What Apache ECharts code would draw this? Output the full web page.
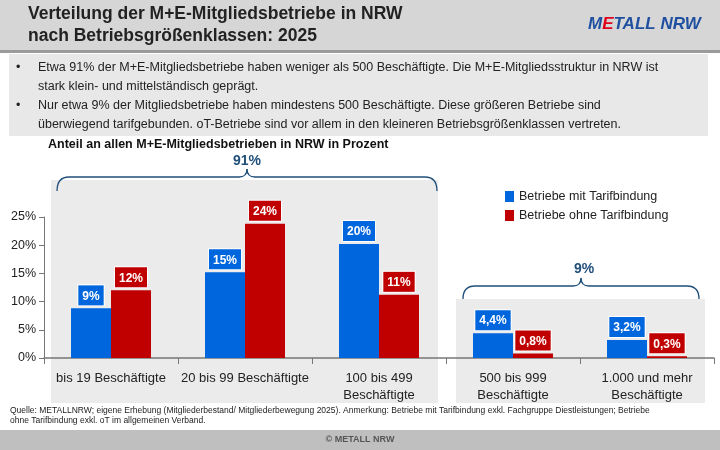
<!DOCTYPE html>
<html>
<head>
<meta charset="utf-8">
<script src="https://cdn.jsdelivr.net/npm/echarts@6/dist/echarts.min.js"></script>
<style>
  body { margin: 0; }
  #chart { width: 720px; height: 450px; }
</style>
</head>
<body>
<div id="chart"></div>
<script>
// Anteil an allen M+E-Mitgliedsbetrieben in NRW in Prozent
let kategorien = ['bis 19 Beschäftigte', '20 bis 99 Beschäftigte', '100 bis 499\nBeschäftigte', '500 bis 999\nBeschäftigte', '1.000 und mehr\nBeschäftigte'];
let mitTarif = [8.8, 15.2, 20.2, 4.4, 3.2];
let ohneTarif = [12.0, 23.8, 11.2, 0.8, 0.3];
let mitLabel = ['9%', '15%', '20%', '4,4%', '3,2%'];
let ohneLabel = ['12%', '24%', '11%', '0,8%', '0,3%'];

let font = "'Liberation Sans', Arial, sans-serif";
let blau = '#0066dd';
let rot = '#c00000';

// geschweifte Klammer aus Kurven und Linien
let brace = function (x1, x2, y, h) {
  let m = (x1 + x2) / 2;
  let st = { stroke: '#1f4e79', fill: null, lineWidth: 1.3 };
  let curve = function (a, b, c) {
    return { type: 'bezierCurve', shape: { x1: a[0], y1: a[1], cpx1: b[0], cpy1: b[1], x2: c[0], y2: c[1] }, style: st };
  };
  let line = function (a, b) {
    return { type: 'line', shape: { x1: a[0], y1: a[1], x2: b[0], y2: b[1] }, style: st };
  };
  return [
    curve([x1, y + h], [x1, y], [x1 + 12, y]),
    line([x1 + 12, y], [m - 8, y]),
    curve([m - 8, y], [m, y], [m, y - 8]),
    curve([m, y - 8], [m, y], [m + 8, y]),
    line([m + 8, y], [x2 - 12, y]),
    curve([x2 - 12, y], [x2, y], [x2, y + h])
  ];
};

let labelStyle = function (farbe, texte) {
  return {
    show: true,
    position: 'top',
    distance: 3,
    formatter: function (p) { return texte[p.dataIndex]; },
    color: '#fff',
    fontWeight: 'bold',
    fontSize: 12,
    fontFamily: font,
    backgroundColor: farbe,
    borderColor: '#fff',
    borderWidth: 1,
    padding: [5, 4, 3, 4]
  };
};

let graphics = [
  { type: 'rect', z: -10, shape: { x: 0, y: 0, width: 720, height: 50 }, style: { fill: '#d6d6d6' } },
  { type: 'rect', z: -10, shape: { x: 0, y: 50, width: 720, height: 3 }, style: { fill: '#9a9a9a' } },
  { type: 'text', x: 28, y: 3, style: { text: 'Verteilung der M+E-Mitgliedsbetriebe in NRW\nnach Betriebsgrößenklassen: 2025', font: 'bold 17.5px ' + font, fill: '#222', lineHeight: 22 } },
  { type: 'text', x: 588, y: 16, style: { text: '{m|M}{e|E}{r|TALL NRW}', rich: { m: { fill: '#1f4fa0', font: 'italic bold 17px ' + font }, e: { fill: '#e0001b', font: 'italic bold 17px ' + font }, r: { fill: '#1f4fa0', font: 'italic bold 17px ' + font } } } },
  { type: 'rect', z: -10, shape: { x: 9, y: 54, width: 699, height: 82 }, style: { fill: '#e8e8e8' } },
  { type: 'text', x: 16, y: 58, style: { text: '•\n\n•', font: '12.5px ' + font, fill: '#222', lineHeight: 19 } },
  { type: 'text', x: 38, y: 58, style: { text: 'Etwa 91% der M+E-Mitgliedsbetriebe haben weniger als 500 Beschäftigte. Die M+E-Mitgliedsstruktur in NRW ist\nstark klein- und mittelständisch geprägt.\nNur etwa 9% der Mitgliedsbetriebe haben mindestens 500 Beschäftigte. Diese größeren Betriebe sind\nüberwiegend tarifgebunden. oT-Betriebe sind vor allem in den kleineren Betriebsgrößenklassen vertreten.', font: '12.5px ' + font, fill: '#222', lineHeight: 19 } },
  { type: 'text', x: 48, y: 138, style: { text: 'Anteil an allen M+E-Mitgliedsbetrieben in NRW in Prozent', font: 'bold 12.5px ' + font, fill: '#111' } },
  { type: 'rect', z: -10, shape: { x: 51, y: 180, width: 387, height: 223 }, style: { fill: '#ebebeb' } },
  { type: 'rect', z: -10, shape: { x: 456, y: 299, width: 249, height: 104 }, style: { fill: '#ebebeb' } },
  { type: 'text', x: 247, y: 154, style: { text: '91%', font: 'bold 14px ' + font, fill: '#1f4e79', textAlign: 'center' } },
  { type: 'text', x: 584, y: 262, style: { text: '9%', font: 'bold 14px ' + font, fill: '#1f4e79', textAlign: 'center' } },
  { type: 'text', x: 10, y: 406, style: { text: 'Quelle: METALLNRW; eigene Erhebung (Mitgliederbestand/ Mitgliederbewegung 2025). Anmerkung: Betriebe mit Tarifbindung exkl. Fachgruppe Diestleistungen; Betriebe\nohne Tarifbindung exkl. oT im allgemeinen Verband.', font: '8.5px ' + font, fill: '#222', lineHeight: 10 } },
  { type: 'rect', z: -10, shape: { x: 0, y: 430, width: 720, height: 20 }, style: { fill: '#bfbfbf' } },
  { type: 'text', x: 360, y: 435, style: { text: '© METALL NRW', font: 'bold 9px ' + font, fill: '#555', textAlign: 'center' } }
].concat(brace(57, 437, 177, 14), brace(463, 699, 286, 13));

let chart = echarts.init(document.getElementById('chart'));
chart.setOption({
  backgroundColor: '#fff',
  animation: false,
  graphic: graphics,
  legend: {
    left: 500,
    top: 185,
    orient: 'vertical',
    icon: 'rect',
    itemWidth: 9,
    itemHeight: 11,
    itemGap: 6,
    textStyle: { fontFamily: font, fontSize: 12.5, color: '#222' },
    data: ['Betriebe mit Tarifbindung', 'Betriebe ohne Tarifbindung']
  },
  grid: { left: 44, right: 6, top: 217, bottom: 92 },
  xAxis: {
    type: 'category',
    data: kategorien,
    axisLine: { lineStyle: { color: '#777', width: 1.5 } },
    axisTick: { show: true, length: 6, lineStyle: { color: '#777' } },
    axisLabel: { interval: 0, fontFamily: font, fontSize: 13, color: '#222', margin: 12, lineHeight: 17 }
  },
  yAxis: {
    type: 'value',
    min: 0,
    max: 25,
    interval: 5,
    splitLine: { show: false },
    axisLine: { show: true, lineStyle: { color: '#777' } },
    axisTick: { show: true, lineStyle: { color: '#777' } },
    axisLabel: { formatter: '{value}%', fontFamily: font, fontSize: 12.5, color: '#222' }
  },
  series: [{
    name: 'Betriebe mit Tarifbindung',
    type: 'bar',
    data: mitTarif,
    barWidth: 40,
    barGap: '0%',
    itemStyle: { color: blau },
    label: labelStyle(blau, mitLabel)
  }, {
    name: 'Betriebe ohne Tarifbindung',
    type: 'bar',
    data: ohneTarif,
    barWidth: 40,
    itemStyle: { color: rot },
    label: labelStyle(rot, ohneLabel)
  }]
});
</script>
</body>
</html>
